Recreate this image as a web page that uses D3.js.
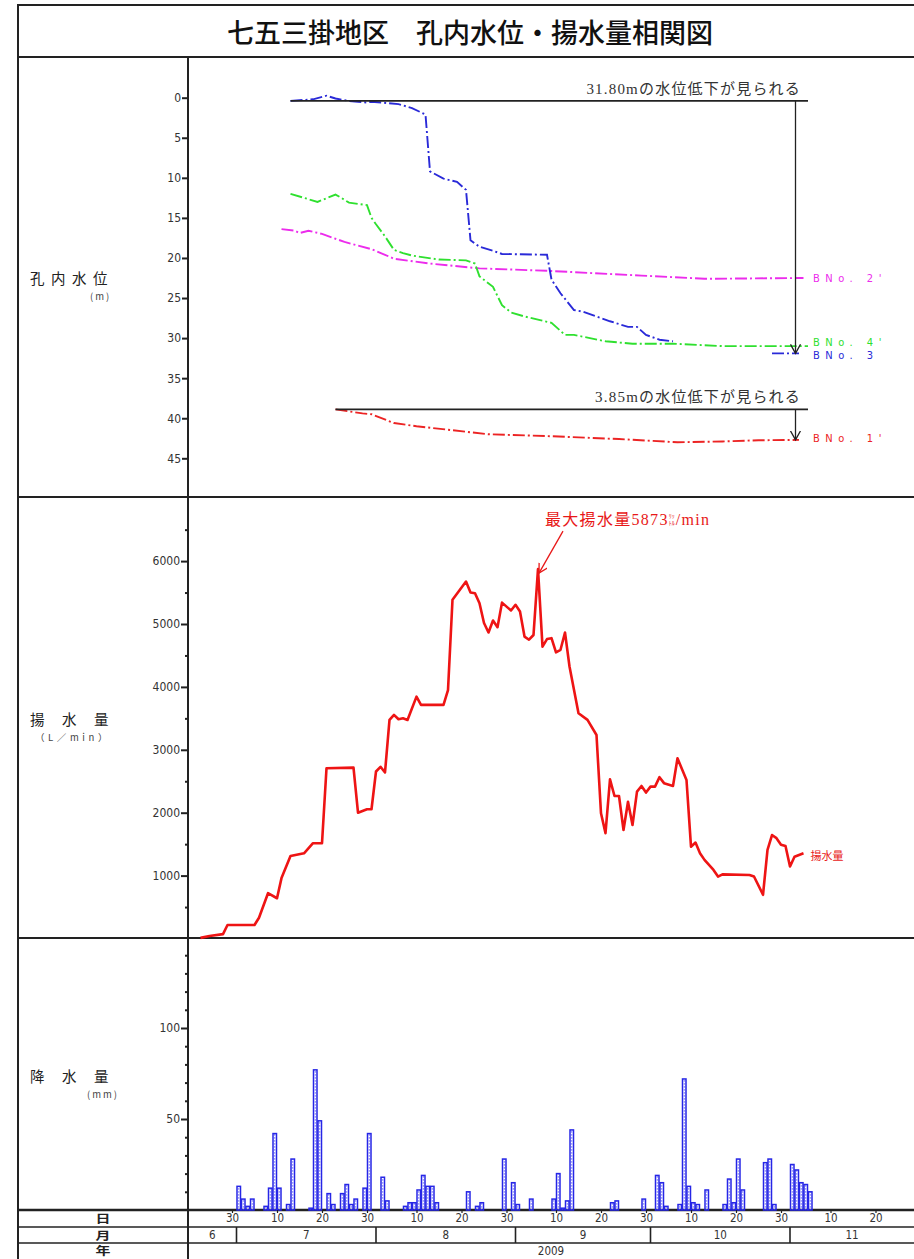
<!DOCTYPE html>
<html>
<head>
<meta charset="utf-8">
<script src="https://cdn.jsdelivr.net/npm/d3@7"></script>
<style>
body { margin: 0; background: #fff; }
</style>
</head>
<body>
<div id="chart"></div>
<script>
// 七五三掛地区 孔内水位・揚水量相関図 (2009)
var numFont = '"DejaVu Sans Condensed", "Liberation Sans Narrow", "Liberation Sans", sans-serif'
    , jpFont = '"Noto Sans CJK JP", sans-serif'
    , serifFont = '"Liberation Serif", "Noto Sans CJK JP", serif'

// 孔内水位 (m) -- depth below top
var bno1Dates = ['07-23','07-29','07-31','08-05','08-10','08-26','09-09','09-24','10-07','10-17','10-25','11-03']
var bno1Level = [38.9, 39.4, 39.5, 40.6, 41.0, 42.0, 42.25, 42.6, 43.0, 42.9, 42.75, 42.7]

var bno2Dates = ['07-11','07-14','07-15','07-17','07-20','07-25','07-31','08-03','08-05','08-13','08-24','09-08','09-29','10-13','11-04']
var bno2Level = [16.4, 16.6, 16.9, 16.6, 17.0, 18.0, 18.9, 19.6, 20.1, 20.7, 21.3, 21.6, 22.2, 22.6, 22.5]

var bno3Dates = ['07-13','07-18','07-21','07-23','07-26','07-28','07-30','07-31','08-06','08-09','08-12','08-13','08-16','08-19','08-21','08-22','08-24','08-27','08-29','09-08','09-09','09-11','09-14','09-16','09-18','09-19','09-22','09-26','09-28','09-30','10-03','10-06','10-07','10-28','11-03']
var bno3Level = [0.4, 0.2, -0.25, 0.1, 0.4, 0.5, 0.6, 0.5, 0.8, 1.3, 2.1, 9.2, 10.1, 10.5, 11.5, 17.8, 18.6, 19.1, 19.5, 19.6, 22.7, 24.4, 26.5, 26.7, 27.1, 27.3, 27.9, 28.6, 28.6, 29.6, 30.2, 30.4, null, 31.9, 31.9]

var bno4Dates = ['07-13','07-19','07-23','07-24','07-26','07-30','07-31','08-01','08-03','08-05','08-07','08-09','08-15','08-21','08-23','08-24','08-27','08-29','08-31','09-03','09-06','09-09','09-12','09-14','09-21','09-27','10-06','10-17','11-05']
var bno4Level = [12.0, 13.0, 12.1, 12.4, 13.1, 13.4, 15.0, 15.8, 17.3, 19.0, 19.4, 19.7, 20.2, 20.3, 20.7, 22.3, 23.6, 25.9, 26.8, 27.3, 27.7, 28.1, 29.6, 29.6, 30.4, 30.7, 30.7, 31.0, 31.0]

// 揚水量 (L/min)
var pumpDates = ['06-23','06-25','06-28','06-29','07-05','07-06','07-08','07-10','07-11','07-13','07-16','07-18','07-20','07-21','07-27','07-28','07-30','07-31',
    '08-01','08-02','08-03','08-04','08-05','08-06','08-07','08-08','08-10','08-11','08-16','08-17','08-18','08-21','08-22','08-23','08-24','08-25','08-26','08-27','08-28','08-29','08-31',
    '09-01','09-02','09-03','09-04','09-05','09-06','09-07','09-08','09-09','09-10','09-11','09-12','09-13','09-15','09-17','09-19','09-20','09-21','09-22','09-23','09-24','09-25','09-26','09-27','09-28','09-29','09-30',
    '10-01','10-02','10-03','10-04','10-06','10-07','10-09','10-10','10-11','10-12','10-13','10-15','10-16','10-17','10-23','10-24','10-26','10-27','10-28','10-29','10-30','10-31','11-01','11-02','11-04']
var pumpRate = [10, 40, 70, 215, 215, 330, 720, 640, 960, 1310, 1355, 1515, 1515, 2707, 2717, 2000, 2055, 2055,
    2655, 2730, 2640, 3475, 3555, 3485, 3500, 3475, 3845, 3715, 3715, 3950, 5385, 5675, 5500, 5490, 5330, 5015, 4865, 5055, 4950, 5340, 5215,
    5305, 5200, 4800, 4750, 4825, 5873, 4640, 4760, 4775, 4550, 4590, 4865, 4325, 3580, 3475, 3235, 1990, 1675, 2530, 2265, 2265, 1725, 2175, 1805, 2335, 2425, 2320,
    2415, 2415, 2565, 2470, 2425, 2865, 2520, 1460, 1525, 1355, 1250, 1090, 985, 1020, 1010, 985, 695, 1410, 1645, 1595, 1490, 1470, 1145, 1300, 1355]

// 降水量 (mm/day)
var rainDates = ['07-01','07-02','07-03','07-04','07-07','07-08','07-09','07-10','07-12','07-13','07-17','07-18','07-19','07-21','07-22','07-24','07-25','07-26','07-27','07-29','07-30',
    '08-02','08-03','08-07','08-08','08-09','08-10','08-11','08-12','08-13','08-14','08-21','08-23','08-24','08-29','08-31',
    '09-01','09-04','09-09','09-10','09-11','09-12','09-13','09-22','09-23','09-29',
    '10-02','10-03','10-04','10-07','10-08','10-09','10-10','10-11','10-13','10-17','10-18','10-19','10-20','10-21','10-26','10-27','10-28',
    '11-01','11-02','11-03','11-04','11-05']
var rainMm = [13, 6, 2, 6, 2, 12, 42, 12, 3, 28, 1, 77, 49, 9, 3, 9, 14, 3, 6, 12, 42,
    18, 5, 2, 4, 4, 11, 19, 13, 13, 4, 10, 2, 4, 28, 15,
    3, 6, 6, 20, 1, 5, 44, 4, 5, 6,
    19, 15, 2, 3, 72, 13, 4, 3, 11, 3, 17, 4, 28, 11, 26, 28, 3,
    25, 22, 15, 14, 10]

var levelTicks = [0, 5, 10, 15, 20, 25, 30, 35, 40, 45]
var pumpTicks = [1000, 2000, 3000, 4000, 5000, 6000]
var pumpMinor = [500, 1500, 2500, 3500, 4500, 5500, 6500]
var rainTicks = [50, 100]
var rainMinor = [10, 20, 30, 40, 60, 70, 80, 90, 110, 120, 130, 140]
var dayTicks = ['06-30','07-10','07-20','07-30','08-10','08-20','08-30','09-10','09-20','09-30','10-10','10-20','10-30','11-10','11-20']
var monthNames = ['6', '7', '8', '9', '10', '11']
var monthStarts = ['06-01','07-01','08-01','09-01','10-01','11-01','12-01']

// 水位低下の注記
var dropStart = ['07-13', '07-23']
var dropFrom = [0.4, 38.9]
var dropTo = [31.9, 42.7]
var dropText = ['31.80mの水位低下が見られる', '3.85mの水位低下が見られる']

var parseDay = function (s) { return d3.timeParse('%Y-%m-%d')('2009-' + s) }
var zip = function (dates, vals) { return dates.map(function (d, i) { return [parseDay(d), vals[i]] }) }

var W = 914, H = 1259, L = 188, R = 914
var svg = d3.select('#chart').append('svg').attr('width', W).attr('height', H)

var x = d3.scaleTime().domain([parseDay('06-20'), parseDay('12-01')]).range([187, 925])
var yLevel = d3.scaleLinear().domain([0, 45]).range([97.7, 458.3])
var yPump = d3.scaleLinear().domain([0, 7000]).range([938.5, 498.2])
var yRain = d3.scaleLinear().domain([0, 150]).range([1210, 937])
var dayW = x(parseDay('07-02')) - x(parseDay('07-01'))

var defs = svg.append('defs')
defs.append('marker').attr('id', 'arrowK').attr('markerUnits', 'userSpaceOnUse')
    .attr('markerWidth', 12).attr('markerHeight', 12).attr('refX', 9).attr('refY', 5).attr('orient', 'auto')
    .append('path').attr('d', 'M0,0 L9,5 L0,10').attr('fill', 'none').attr('stroke', '#222').attr('stroke-width', 1.3)
defs.append('marker').attr('id', 'arrowR').attr('markerUnits', 'userSpaceOnUse')
    .attr('markerWidth', 12).attr('markerHeight', 12).attr('refX', 9).attr('refY', 5).attr('orient', 'auto')
    .append('path').attr('d', 'M0,0 L9,5 L0,10').attr('fill', 'none').attr('stroke', '#e81818').attr('stroke-width', 1.3)
var hatch = defs.append('pattern').attr('id', 'hatch').attr('patternUnits', 'userSpaceOnUse')
    .attr('x', x(parseDay('07-01'))).attr('y', 0).attr('width', dayW).attr('height', 3)
hatch.append('line').attr('x1', dayW / 2).attr('x2', dayW / 2).attr('y1', 0).attr('y2', 1.8)
    .attr('stroke', '#7b7bff').attr('stroke-width', 1)

// frame
var frame = svg.append('g').attr('stroke', '#222').attr('fill', 'none')
frame.append('rect').attr('x', 18).attr('y', 5).attr('width', 900).attr('height', 52).attr('stroke-width', 2)
frame.append('line').attr('x1', 18).attr('x2', 18).attr('y1', 57).attr('y2', H).attr('stroke-width', 2)
frame.append('line').attr('x1', L).attr('x2', L).attr('y1', 57).attr('y2', H).attr('stroke-width', 2)
;[497, 938].forEach(function (yy) {
    frame.append('line').attr('x1', 18).attr('x2', R).attr('y1', yy).attr('y2', yy).attr('stroke-width', 2)
})
frame.append('line').attr('x1', 18).attr('x2', R).attr('y1', 1210).attr('y2', 1210).attr('stroke-width', 2.5)
;[1227, 1243].forEach(function (yy) {
    frame.append('line').attr('x1', 18).attr('x2', R).attr('y1', yy).attr('y2', yy).attr('stroke-width', 1.6)
})

svg.append('text').attr('x', 470).attr('y', 31).attr('text-anchor', 'middle').attr('dominant-baseline', 'central')
    .attr('font-family', jpFont).attr('font-size', 27).attr('font-weight', 500).attr('fill', '#111')
    .text('七五三掛地区　孔内水位・揚水量相関図')

// left captions
function caption(label, spacing, y, unit, unitX, unitSpacing) {
    svg.append('text').attr('x', 30).attr('y', y).attr('font-family', jpFont).attr('font-size', 14.5)
        .attr('letter-spacing', spacing).attr('fill', '#222').text(label)
    svg.append('text').attr('x', unitX).attr('y', y + 16).attr('font-family', jpFont).attr('font-size', 9.5)
        .attr('letter-spacing', unitSpacing).attr('fill', '#444').text(unit)
}
caption('孔内水位', 6.5, 284, '(m)', 90, 2)
caption('揚水量', 17.5, 725, '（L／min）', 35, 3.6)
caption('降水量', 17.5, 1082, '(mm)', 87, 2)

// y axes
function leftAxis(scale, vals, len, labels) {
    var g = svg.append('g').attr('transform', 'translate(' + L + ',0)')
        .call(d3.axisLeft(scale).tickValues(vals).tickSize(len).tickPadding(1)
            .tickFormat(labels ? d3.format('d') : ''))
    g.select('.domain').remove()
    g.selectAll('.tick line').attr('stroke', '#222').attr('stroke-width', 2)
    g.selectAll('.tick text').attr('font-family', numFont).attr('font-size', 12).attr('fill', '#333')
    return g
}
leftAxis(yLevel, levelTicks, 6, true)
leftAxis(yPump, pumpMinor, 3, false)
leftAxis(yPump, pumpTicks, 7, true)
leftAxis(yRain, rainMinor, 3, false)
leftAxis(yRain, rainTicks, 7, true)

// water level lines
var levelLine = d3.line().defined(function (d) { return d[1] != null })
    .x(function (d) { return x(d[0]) }).y(function (d) { return yLevel(d[1]) })
var wells = [
    { data: zip(bno2Dates, bno2Level), color: '#ec2cec', name: "BNo. 2'", ly: 278 },
    { data: zip(bno4Dates, bno4Level), color: '#2fe02f', name: "BNo. 4'", ly: 342 },
    { data: zip(bno3Dates, bno3Level), color: '#2a2ad8', name: 'BNo. 3', ly: 355 },
    { data: zip(bno1Dates, bno1Level), color: '#ec2424', name: "BNo. 1'", ly: 438 }
]
wells.forEach(function (w) {
    svg.append('path').datum(w.data).attr('d', levelLine).attr('fill', 'none')
        .attr('stroke', w.color).attr('stroke-width', 1.9).attr('stroke-dasharray', '12,3,2,3')
    svg.append('text').attr('x', 813).attr('y', w.ly).attr('dominant-baseline', 'central')
        .attr('font-family', numFont).attr('font-size', 11).attr('letter-spacing', 5.5)
        .attr('fill', w.color).text(w.name)
})

// drop annotations
dropStart.forEach(function (s, i) {
    var yy = yLevel(dropFrom[i]), ax = x(parseDay('11-02')) + 1
    svg.append('line').attr('x1', x(parseDay(s))).attr('x2', x(parseDay('11-05'))).attr('y1', yy).attr('y2', yy)
        .attr('stroke', '#222').attr('stroke-width', 1.6)
    svg.append('line').attr('x1', ax).attr('x2', ax).attr('y1', yy).attr('y2', yLevel(dropTo[i]))
        .attr('stroke', '#222').attr('stroke-width', 1.3).attr('marker-end', 'url(#arrowK)')
    svg.append('text').attr('x', 801).attr('y', yy - 7).attr('text-anchor', 'end')
        .attr('font-family', serifFont).attr('font-size', 15).attr('letter-spacing', 1.2)
        .attr('fill', '#333').text(dropText[i])
})

// pumping rate
var pump = zip(pumpDates, pumpRate)
svg.append('path').datum(pump)
    .attr('d', d3.line().x(function (d) { return x(d[0]) }).y(function (d) { return yPump(d[1]) }))
    .attr('fill', 'none').attr('stroke', '#ee1414').attr('stroke-width', 2.6).attr('stroke-linejoin', 'round')

var peak = pump[d3.maxIndex(pump, function (d) { return d[1] })]
var tipX = x(peak[0]) + 1, tipY = yPump(peak[1]) + 4
svg.append('line').attr('x1', tipX + 24).attr('y1', tipY - 42).attr('x2', tipX).attr('y2', tipY)
    .attr('stroke', '#e81818').attr('stroke-width', 1.3).attr('marker-end', 'url(#arrowR)')
var ann = svg.append('text').attr('x', tipX + 6).attr('y', tipY - 48).attr('font-family', serifFont)
    .attr('font-size', 16).attr('letter-spacing', 1.3).attr('fill', '#e81818').text('最大揚水量' + peak[1])
var aw = ann.node().getComputedTextLength()
var unitSmall = svg.append('text').attr('x', tipX + 6 + aw).attr('y', tipY - 55)
    .attr('font-family', jpFont).attr('font-size', 6).attr('fill', '#e81818')
unitSmall.append('tspan').attr('x', tipX + 6 + aw).text('ﾘｯ')
unitSmall.append('tspan').attr('x', tipX + 6 + aw).attr('dy', 6.5).text('ﾄﾙ')
svg.append('text').attr('x', tipX + 13 + aw).attr('y', tipY - 48).attr('font-family', serifFont)
    .attr('font-size', 16).attr('letter-spacing', 1.3).attr('fill', '#e81818').text('/min')
var last = pump[pump.length - 1]
svg.append('text').attr('x', x(last[0]) + 7).attr('y', yPump(last[1]) + 2).attr('dominant-baseline', 'central')
    .attr('font-family', jpFont).attr('font-size', 11).attr('fill', '#e81818').text('揚水量')

// rainfall bars
svg.append('g').selectAll('rect').data(zip(rainDates, rainMm)).join('rect')
    .attr('x', function (d) { return x(d[0]) + 0.5 })
    .attr('y', function (d) { return yRain(d[1]) })
    .attr('width', dayW - 1)
    .attr('height', function (d) { return yRain(0) - yRain(d[1]) })
    .attr('fill', 'url(#hatch)').attr('stroke', '#2626e6').attr('stroke-width', 1.5)

// 日 / 月 / 年 rows
var dayAxis = svg.append('g').attr('transform', 'translate(0,1210)')
    .call(d3.axisBottom(x).tickValues(dayTicks.map(parseDay)).tickSize(3).tickPadding(1).tickFormat(d3.timeFormat('%-d')))
dayAxis.select('.domain').remove()
dayAxis.selectAll('.tick line').attr('stroke', '#222').attr('stroke-width', 1.2)
dayAxis.selectAll('.tick text').attr('font-family', numFont).attr('font-size', 11.5).attr('fill', '#333')

var starts = monthStarts.map(parseDay)
starts.slice(1, -1).forEach(function (d) {
    svg.append('line').attr('x1', x(d)).attr('x2', x(d)).attr('y1', 1227).attr('y2', 1243)
        .attr('stroke', '#222').attr('stroke-width', 1.6)
})
monthNames.forEach(function (m, i) {
    var a = Math.max(L, x(starts[i])), b = Math.min(R, x(starts[i + 1]))
    svg.append('text').attr('x', (a + b) / 2).attr('y', 1235).attr('text-anchor', 'middle').attr('dominant-baseline', 'central')
        .attr('font-family', numFont).attr('font-size', 11.5).attr('fill', '#333').text(m)
})
svg.append('text').attr('x', (L + R) / 2).attr('y', 1251).attr('text-anchor', 'middle').attr('dominant-baseline', 'central')
    .attr('font-family', numFont).attr('font-size', 11.5).attr('fill', '#333').text('2009')

;[['日', 1218.5], ['月', 1235], ['年', 1250.5]].forEach(function (r) {
    svg.append('text').attr('transform', 'translate(103,' + r[1] + ') scale(1.3,1)')
        .attr('text-anchor', 'middle').attr('dominant-baseline', 'central')
        .attr('font-family', jpFont).attr('font-size', 11.5).attr('font-weight', 700).attr('fill', '#222').text(r[0])
})
</script>
</body>
</html>
